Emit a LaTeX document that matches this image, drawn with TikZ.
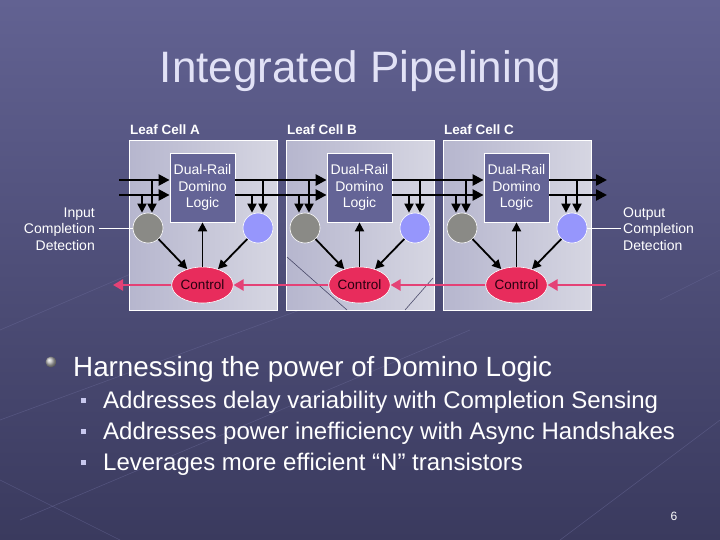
\documentclass[tikz,border=0pt]{standalone}
\usepackage{fontspec}
\setmainfont{Liberation Sans}
\usetikzlibrary{arrows.meta,shapes.geometric}
\definecolor{bgtop}{RGB}{98,98,146}
\definecolor{bgbot}{RGB}{58,58,94}
\definecolor{titlec}{RGB}{226,226,246}
\definecolor{cellL}{RGB}{182,182,206}
\definecolor{cellR}{RGB}{214,214,226}
\definecolor{logicc}{RGB}{100,100,150}
\definecolor{grayc}{RGB}{138,138,134}
\definecolor{bluec}{RGB}{150,150,252}
\definecolor{ctrlc}{RGB}{232,44,92}
\definecolor{pinkc}{RGB}{228,66,118}
\definecolor{ctrltext}{RGB}{40,0,16}
\definecolor{sqc}{RGB}{200,200,238}
\definecolor{texline}{RGB}{72,72,104}
\definecolor{bgline}{RGB}{104,104,150}
\tikzset{
  cell/.style={draw=white, line width=1pt, left color=cellL, right color=cellR,
    minimum width=148pt, minimum height=169pt, inner sep=0pt},
  lbl/.style={text=white, font=\fontsize{13.5}{15}\selectfont\bfseries, inner sep=0pt},
  logic/.style={draw=white, line width=0.8pt, fill=logicc, text=white,
    minimum width=65pt, minimum height=69pt, inner sep=0pt, align=center,
    font=\fontsize{14}{16.5}\selectfont},
  gcirc/.style={circle, draw=white, line width=0.6pt, fill=grayc, minimum size=30pt, inner sep=0pt},
  bcirc/.style={circle, draw=white, line width=0.6pt, fill=bluec, minimum size=30pt, inner sep=0pt},
  ctrl/.style={ellipse, draw=white, line width=0.6pt, fill=ctrlc,
    minimum width=54pt, minimum height=36pt, inner sep=0pt, font=\fontsize{13.5}{15}\selectfont},
  bus/.style={line width=2.4pt, -{Triangle[length=11pt,width=11pt]}},
  tap/.style={line width=1.8pt, -{Triangle[length=9pt,width=9pt]}},
  pk/.style={line width=2.4pt, pinkc, -{Triangle[length=10pt,width=11pt]}},
  side/.style={text=white, font=\fontsize{14}{16.5}\selectfont, inner sep=0pt},
  bigtxt/.style={text=white, font=\fontsize{27.8}{32}\selectfont, inner sep=0pt},
  subtxt/.style={text=white, font=\fontsize{24}{28}\selectfont, inner sep=0pt},
  sqb/.style={fill=sqc, minimum size=5pt, inner sep=0pt}
}
\begin{document}
\begin{tikzpicture}[x=1pt,y=-1pt]
\useasboundingbox (0,0) rectangle (720,540);
\fill[top color=bgtop, bottom color=bgbot] (0,0) rectangle (720,540);
% faint background texture
\begin{scope}[bgline, line width=0.6pt, opacity=0.5]
\draw (0,330) -- (140,270);
\draw (0,420) -- (300,310);
\draw (20,520) -- (470,330);
\draw (560,540) -- (720,420);
\draw (660,300) -- (720,270);
\draw (0,480) -- (120,540);
\end{scope}

% title
\node[text=titlec, font=\fontsize{44}{48}\selectfont, anchor=base, inner sep=0pt] (title) at (360.5,83) {Integrated Pipelining};

% cells
\foreach \L/\n in {129/A,286/B,443/C}{
  \node[cell] (cell\n) at (\L+74,225.5) {};
  \node[lbl, anchor=west] (lab\n) at (\L+1,130) {Leaf Cell \n};
}
% texture lines seen through cell B
\draw[texline, line width=0.6pt] (287,257) -- (347,310);
\draw[texline, line width=0.6pt] (405,310) -- (433,278);

\foreach \L/\n in {129/A,286/B,443/C}{
  \node[logic] (d\n) at (\L+73.5,187.5) {Dual-Rail\\Domino\\Logic};
  \node[gcirc] (g\n) at (\L+19,228) {};
  \node[bcirc] (b\n) at (\L+129,228) {};
  \node[ctrl] (c\n) at (\L+73.5,285) {\textcolor{ctrltext}{Control}};
  \coordinate (tl\n1) at (\L+13,195);
  \coordinate (tl\n2) at (\L+23,180);
  \coordinate (tr\n1) at (\L+123,195);
  \coordinate (tr\n2) at (\L+134,180);
}

% data buses
\coordinate (inT) at (119,180);
\coordinate (inB) at (119,195);
\coordinate (outT) at (607,180);
\coordinate (outB) at (607,195);
\draw[bus] (inT) -- (inT -| dA.west);
\draw[bus] (inB) -- (inB -| dA.west);
\draw[bus] (dA.east |- inT) -- (dB.west |- inT);
\draw[bus] (dA.east |- inB) -- (dB.west |- inB);
\draw[bus] (dB.east |- inT) -- (dC.west |- inT);
\draw[bus] (dB.east |- inB) -- (dC.west |- inB);
\draw[bus] (dC.east |- outT) -- (outT);
\draw[bus] (dC.east |- outB) -- (outB);

% taps into completion detectors
\foreach \n in {A,B,C}{
  \draw[tap] (tl\n1) -- (tl\n1 |- g\n.north);
  \draw[tap] (tl\n2) -- (tl\n2 |- g\n.north);
  \draw[tap] (tr\n1) -- (tr\n1 |- b\n.north);
  \draw[tap] (tr\n2) -- (tr\n2 |- b\n.north);
  \draw[tap] (g\n) -- (c\n);
  \draw[tap] (b\n) -- (c\n);
  \draw[tap] (c\n) -- (d\n);
}

% control handshake chain
\coordinate (ctlL) at (113,285);
\coordinate (ctlR) at (606,285);
\draw[pk] (cA) -- (ctlL);
\draw[pk] (cB) -- (cA);
\draw[pk] (cC) -- (cB);
\draw[pk] (ctlR) -- (cC);

% side labels
\node[side, anchor=east, align=right] (inlab) at (95,229) {Input\\Completion\\Detection};
\node[side, anchor=west, align=left] (outlab) at (623,229) {Output\\Completion\\Detection};
\coordinate (inlabE) at (99,228);
\coordinate (outlabW) at (621,228);
\draw[white, line width=0.8pt] (inlabE) -- (gA.west);
\draw[white, line width=0.8pt] (bC.east) -- (outlabW);

% bullets
\node[circle, ball color=gray!55!white, minimum size=11pt, inner sep=0pt] (bul0) at (51,362) {};
\node[bigtxt, anchor=base west] (b0) at (73,376) {Harnessing the power of Domino Logic};
\node[sqb] (sq1) at (83,400.5) {};
\node[subtxt, anchor=base west] (b1) at (103,408) {Addresses delay variability with Completion Sensing};
\node[sqb] (sq2) at (83,431.5) {};
\node[subtxt, anchor=base west] (b2) at (103,439) {Addresses power inefficiency with Async Handshakes};
\node[sqb] (sq3) at (83,462.5) {};
\node[subtxt, anchor=base west] (b3) at (103,470) {Leverages more efficient “N” transistors};

\node[text=white, font=\fontsize{12}{14}\selectfont, inner sep=0pt] (pgnum) at (674,516) {6};
\end{tikzpicture}
\end{document}
